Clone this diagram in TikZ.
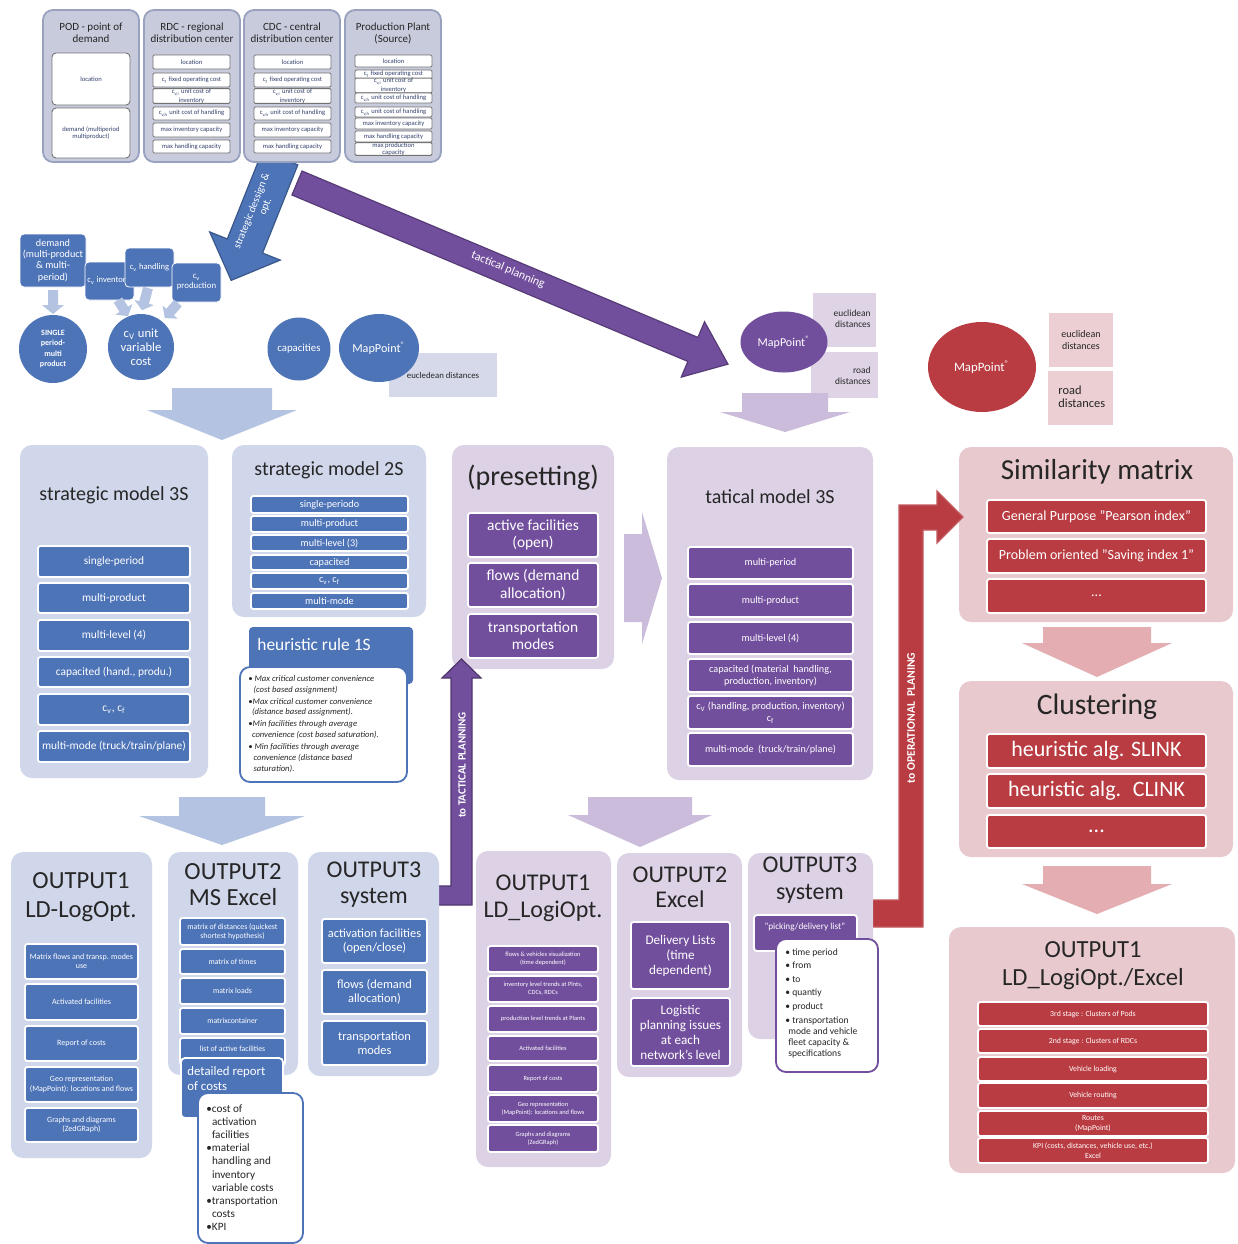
\documentclass[tikz,border=0pt]{standalone}
\usepackage{fontspec}
\setmainfont{Carlito}
\usetikzlibrary{shapes.geometric}
\definecolor{cblue}{HTML}{4E74B8}
\definecolor{lblue}{HTML}{D0D7EA}
\definecolor{ablue}{HTML}{B3C3E1}
\definecolor{cpur}{HTML}{724F9D}
\definecolor{lpur}{HTML}{DCD1E5}
\definecolor{apur}{HTML}{CBBCDB}
\definecolor{cred}{HTML}{B93C42}
\definecolor{lred}{HTML}{E8CACE}
\definecolor{ared}{HTML}{E3ADB2}
\definecolor{tgrey}{HTML}{C8CBDC}
\definecolor{tbord}{HTML}{98A1BE}
\definecolor{txt}{HTML}{262626}
\definecolor{navy}{HTML}{34426E}
\definecolor{ldist}{HTML}{D5D9EA}
\definecolor{lpbox}{HTML}{DED4E6}
\definecolor{lrbox}{HTML}{EBCFD2}
\newcommand\fz[2]{\fontsize{#1}{#2}\selectfont}
\newcommand\qq{\char34\relax}
\newcommand\bx[7]{%
 \pgfmathsetmacro\bxw{(#5-#3)*0.5}%
 \pgfmathsetmacro\bxh{(#6-#4)*0.5}%
 \pgfmathsetmacro\bxx{(#3+#5)/2}%
 \pgfmathsetmacro\bxy{(#4+#6)/2}%
 \node[#2, minimum width=\bxw pt, minimum height=\bxh pt] (#1) at (\bxx,\bxy) {#7};}
\newcommand\barrow[8]{%
 \begin{scope}[shift={(#2,#3)}, rotate=#4]
 \path[#1] (0,-#6) -- ({#5-#8},-#6) -- ({#5-#8},-#7) -- (#5,0) -- ({#5-#8},#7) -- ({#5-#8},#6) -- (0,#6) -- cycle;
 \end{scope}}
\tikzset{
 cont/.style={fill=#1, rounded corners=6pt, inner sep=0pt},
 ib/.style={fill=#1, draw=white, line width=0.9pt, rounded corners=1.2pt, text=white, align=center, inner sep=0pt},
 trow/.style={fill=white, draw=black!55, line width=0.45pt, rounded corners=0.6pt, text=navy, align=center, inner sep=0pt, font=\fz{3.3}{3.5}},
 tcont/.style={fill=tgrey, draw=tbord, line width=0.9pt, rounded corners=5pt, inner sep=0pt},
 ttl/.style={text=txt, align=center, inner sep=0pt},
 wbox/.style={fill=white, draw=#1, line width=0.9pt, rounded corners=5pt, inner sep=0pt},
 sbox/.style={fill=cblue, rounded corners=2pt, text=white, align=center, inner sep=0pt, draw=white, line width=0.4pt},
 dbox/.style={fill=#1, inner sep=0pt, text=txt, align=center},
 lbl/.style={text=white, inner sep=0pt, align=center},
}
\begin{document}
\begin{tikzpicture}[x=0.5pt,y=-0.5pt]
\useasboundingbox (0,0) rectangle (1238,1244);
\fill[white] (0,0) rectangle (1238,1244);

% strategic design arrow
\barrow{fill=cblue, draw=cblue!75!black, line width=0.6pt}{280.2}{157.8}{-111.8}{132}{19}{38}{37}
\node[lbl, rotate=68.2, font=\fz{5.3}{6.2}] (strl) at (252,211) {strategic dessign \&};
\node[lbl, rotate=68.2, font=\fz{5.3}{6.2}] (strl2) at (266,207) {opt.};

% top tables
\bx{pod}{tcont}{43}{10}{139}{162}{}
\node[ttl, font=\fz{5.5}{6}] (podt) at (91,33) {POD - point of\\demand};
\bx{podloc}{trow, rounded corners=2pt}{52}{53}{130}{105}{location}
\bx{poddem}{trow, rounded corners=2pt}{52}{108}{130}{158}{demand (multiperiod\\multiproduct)}

\bx{rdc}{tcont}{144}{10}{240}{162}{}
\node[ttl, font=\fz{5.5}{6}] (rdct) at (192,33) {RDC - regional\\distribution center};
\bx{rdca}{trow}{153}{55}{230}{69}{location}
\bx{rdcb}{trow}{153}{73}{230}{87}{c\textsubscript{f} fixed operating cost}
\bx{rdcc}{trow}{153}{89}{230}{103}{c\textsubscript{v,i} unit cost of\\inventory}
\bx{rdcd}{trow}{153}{107}{230}{120}{c\textsubscript{v,h} unit cost of handling}
\bx{rdce}{trow}{153}{123}{230}{137}{max inventory capacity}
\bx{rdcf}{trow}{153}{140}{230}{153}{max handling capacity}

\bx{cdc}{tcont}{244}{10}{340}{162}{}
\node[ttl, font=\fz{5.5}{6}] (cdct) at (292,33) {CDC - central\\distribution center};
\bx{cdca}{trow}{254}{55}{331}{69}{location}
\bx{cdcb}{trow}{254}{73}{331}{87}{c\textsubscript{f} fixed operating cost}
\bx{cdcc}{trow}{254}{89}{331}{103}{c\textsubscript{v,i} unit cost of\\inventory}
\bx{cdcd}{trow}{254}{107}{331}{120}{c\textsubscript{v,h} unit cost of handling}
\bx{cdce}{trow}{254}{123}{331}{137}{max inventory capacity}
\bx{cdcf}{trow}{254}{140}{331}{153}{max handling capacity}

\bx{pp}{tcont}{345}{10}{441}{162}{}
\node[ttl, font=\fz{5.5}{6}] (ppt) at (393,33) {Production Plant\\(Source)};
\bx{ppa}{trow}{355}{55}{432}{67}{location}
\bx{ppb}{trow}{355}{70}{432}{79}{c\textsubscript{f} fixed operating cost}
\bx{ppc}{trow}{355}{80}{432}{91}{c\textsubscript{v,i} unit cost of\\inventory}
\bx{ppd}{trow}{355}{93}{432}{103}{c\textsubscript{v,h} unit cost of handling}
\bx{ppe}{trow}{355}{107}{432}{117}{c\textsubscript{v,h} unit cost of handling}
\bx{ppf}{trow}{355}{118}{432}{129}{max inventory capacity}
\bx{ppg}{trow}{355}{131}{432}{142}{max handling capacity}
\bx{pph}{trow}{355}{143}{432}{155}{max production\\capacity}

% tactical planning arrow
\barrow{fill=cpur, draw=cpur!75!black, line width=0.6pt}{297}{183}{-22.8}{467.5}{13}{30}{38}
\node[lbl, rotate=-22.8, font=\fz{5.9}{6.6}] (tacl) at (508,270) {tactical planning};

% inputs
\bx{dem}{sbox, font=\fz{5.1}{5.6}}{20}{234}{86}{287}{demand\\(multi-product\\\& multi-\\period)}
\bx{inv}{sbox}{85}{262}{134}{300}{}
\node[lbl, anchor=west, font=\fz{4.3}{5}] (invt) at (87,281) {c\textsubscript{v} inventory};
\bx{hand}{sbox, font=\fz{4.3}{5}}{125}{248}{174}{287}{c\textsubscript{v} handling}
\bx{prod}{sbox, font=\fz{4.4}{5}}{172}{263}{221}{302}{c\textsubscript{v}\\production}

\barrow{fill=ablue}{53}{290}{-90}{24}{5}{11}{9}
\barrow{fill=ablue}{118}{300}{-58}{19}{5}{10}{8}
\barrow{fill=ablue}{148}{288}{-105}{23}{5}{10}{8}
\barrow{fill=ablue}{178}{303}{-131}{20}{5}{10}{8}

\node[circle, fill=cblue, minimum size=34pt, inner sep=0pt, text=white, align=center, font=\fz{4}{5.3}\bfseries] (single) at (53,349) {SINGLE\\period-\\multi\\product};
\node[circle, fill=cblue, minimum size=33pt, inner sep=0pt, text=white, align=center, font=\fz{6.3}{7.1}] (cvc) at (141,347) {c\textsubscript{V} unit\\variable\\cost};
\node[circle, fill=cblue, minimum size=31.5pt, inner sep=0pt, text=white, font=\fz{5.4}{6}] (capc) at (299,349) {capacities};
\bx{eucl}{dbox=ldist, font=\fz{4.4}{5}}{389}{353}{497}{397}{eucledean distances}
\node[ellipse, fill=cblue, minimum width=40pt, minimum height=34pt, inner sep=0pt, text=white, font=\fz{6.1}{7}] (mp1) at (379,348) {MapPoint\textsuperscript{\fz{4}{4}®}};

\barrow{fill=ablue}{222}{388}{-90}{52}{50}{75}{30}

% strategic 3S
\bx{s3}{cont=lblue}{20}{445}{208}{778}{}
\node[ttl, font=\fz{10}{11}] (s3t) at (114,495) {strategic model 3S};
\bx{s3a}{ib=cblue, font=\fz{5.7}{6.8}}{38}{546}{190}{577}{single-period}
\bx{s3b}{ib=cblue, font=\fz{5.7}{6.8}}{38}{583}{190}{613}{multi-product}
\bx{s3c}{ib=cblue, font=\fz{5.7}{6.8}}{38}{620}{190}{651}{multi-level (4)}
\bx{s3d}{ib=cblue, font=\fz{5.7}{6.8}}{38}{657}{190}{687}{capacited (hand., produ.)}
\bx{s3e}{ib=cblue, font=\fz{5.7}{6.8}}{38}{694}{190}{725}{c\textsubscript{v}, c\textsubscript{f}}
\bx{s3f}{ib=cblue, font=\fz{5.7}{6.8}}{38}{731}{190}{762}{multi-mode (truck/train/plane)}

% strategic 2S
\bx{s2}{cont=lblue}{232}{445}{426}{617}{}
\node[ttl, font=\fz{10}{11}] (s2t) at (329,470) {strategic model 2S};
\bx{s2a}{ib=cblue, font=\fz{5.1}{6}}{251}{496}{408}{513}{single-periodo}
\bx{s2b}{ib=cblue, font=\fz{5.1}{6}}{251}{516}{408}{532}{multi-product}
\bx{s2c}{ib=cblue, font=\fz{5.1}{6}}{251}{535}{408}{551}{multi-level (3)}
\bx{s2d}{ib=cblue, font=\fz{5.1}{6}}{251}{555}{408}{570}{capacited}
\bx{s2e}{ib=cblue, font=\fz{5.1}{6}}{251}{573}{408}{589}{c\textsubscript{v}, c\textsubscript{f}}
\bx{s2f}{ib=cblue, font=\fz{5.1}{6}}{251}{593}{408}{609}{multi-mode}

% heuristic rule
\bx{hr}{fill=cblue, rounded corners=2pt, inner sep=0pt}{249}{627}{413}{684}{}
\node[lbl, anchor=west, font=\fz{8.7}{9.5}] (hrt) at (257,645) {heuristic rule 1S};
\bx{hrw}{wbox=cblue}{240}{667}{407}{782}{}
\node[anchor=north west, align=left, inner sep=0pt, text=txt, font=\fz{4.3}{5.4}\itshape] (hrl) at (248,675) {%
• Max critical customer convenience\\
\hspace*{2.6pt}(cost based assignment)\\[0.6pt]
•Max critical customer convenience\\
\hspace*{1.8pt}(distance based assignment).\\[0.6pt]
•Min facilities through average\\
\hspace*{1.8pt}convenience (cost based saturation).\\[0.6pt]
• Min facilities through average\\
\hspace*{2.6pt}convenience (distance based\\
\hspace*{2.6pt}saturation).};

% presetting
\bx{pre}{cont=lpur}{452}{445}{614}{669}{}
\node[ttl, font=\fz{14}{15}] (pret) at (533,478) {(presetting)};
\bx{prea}{ib=cpur, font=\fz{7.7}{8.6}}{468}{513}{598}{557}{active facilities\\(open)}
\bx{preb}{ib=cpur, font=\fz{7.7}{8.6}}{468}{563}{598}{607}{flows (demand\\allocation)}
\bx{prec}{ib=cpur, font=\fz{7.7}{8.6}}{468}{614}{598}{658}{transportation\\modes}

\barrow{fill=apur}{624}{578}{0}{38}{44}{66}{20}

% tactical model
\bx{tac}{cont=lpur}{667}{447}{873}{780}{}
\node[ttl, font=\fz{10}{11}] (tact) at (770,497) {tatical model 3S};
\bx{taca}{ib=cpur, font=\fz{5.1}{6.1}}{688}{547}{853}{579}{multi-period}
\bx{tacb}{ib=cpur, font=\fz{5.1}{6.1}}{688}{584}{853}{617}{multi-product}
\bx{tacc}{ib=cpur, font=\fz{5.1}{6.1}}{688}{622}{853}{654}{multi-level (4)}
\bx{tacd}{ib=cpur, font=\fz{5.1}{6.1}}{688}{659}{853}{692}{capacited (material~ handling,\\production, inventory)}
\bx{tace}{ib=cpur, font=\fz{5.1}{6.1}}{688}{696}{853}{729}{c\textsubscript{V} (handling, production, inventory)\\c\textsubscript{f}}
\bx{tacf}{ib=cpur, font=\fz{5.1}{6.1}}{688}{733}{853}{766}{multi-mode~ (truck/train/plane)}

% purple mappoint
\bx{pe}{dbox=lpbox}{813}{293}{876}{347}{}
\node[anchor=east, align=right, inner sep=0pt, text=txt, font=\fz{4.7}{5.3}] (pet) at (871,319) {euclidean\\distances};
\bx{pr}{dbox=lpbox}{811}{352}{878}{398}{}
\node[anchor=east, align=right, inner sep=0pt, text=txt, font=\fz{4.7}{5.3}] (prt) at (871,376) {road\\distances};
\node[ellipse, fill=cpur, minimum width=43.5pt, minimum height=30.5pt, inner sep=0pt, text=white, font=\fz{6}{7}] (mp2) at (784,342) {MapPoint\textsuperscript{\fz{4}{4}®}};
\barrow{fill=apur}{785}{393}{-90}{39}{43}{65}{20}

% red mappoint
\node[ellipse, fill=cred, minimum width=54pt, minimum height=45pt, inner sep=0pt, text=white, font=\fz{6.4}{7}] (mp3) at (982,367) {MapPoint\textsuperscript{\fz{4.2}{4.2}®}};
\bx{re}{dbox=lrbox, font=\fz{5}{5.6}}{1049}{313}{1113}{367}{euclidean\\distances}
\bx{rr}{dbox=lrbox}{1048}{371}{1113}{425}{}
\node[anchor=west, align=left, inner sep=0pt, text=txt, font=\fz{6.2}{6.7}] (rrt) at (1058,397) {road\\distances};

% similarity
\bx{sim}{cont=lred}{959}{447}{1233}{622}{}
\node[ttl, font=\fz{14.5}{15}] (simt) at (1097,472) {Similarity matrix};
\bx{sima}{ib=cred, font=\fz{7}{8}}{987}{500}{1206}{533}{General Purpose \qq Pearson index\qq}
\bx{simb}{ib=cred, font=\fz{7}{8}}{987}{539}{1206}{573}{Problem oriented \qq Saving index 1\qq}
\bx{simc}{ib=cred, font=\fz{7}{8}}{987}{579}{1206}{613}{...}
\barrow{fill=ared}{1097}{627}{-90}{50}{54}{75}{34}

% clustering
\bx{clu}{cont=lred}{959}{681}{1233}{857}{}
\node[ttl, font=\fz{14.8}{15}] (clut) at (1097,707) {Clustering};
\bx{clua}{ib=cred, font=\fz{11}{12}}{987}{734}{1206}{768}{heuristic alg. SLINK}
\bx{club}{ib=cred, font=\fz{11}{12}}{987}{774}{1206}{808}{heuristic alg.~ CLINK}
\bx{cluc}{ib=cred, font=\fz{11}{12}}{987}{815}{1206}{848}{...}
\barrow{fill=ared}{1097}{866}{-90}{48}{54}{75}{30}

% output right
\bx{or}{cont=lred}{949}{927}{1235}{1173}{}
\node[ttl, font=\fz{12.3}{14}] (ort) at (1093,966) {OUTPUT1\\LD\_LogiOpt./Excel};
\bx{ora}{ib=cred, font=\fz{3.9}{5}}{978}{1002}{1208}{1026}{3rd stage : Clusters of Pods}
\bx{orb}{ib=cred, font=\fz{3.9}{5}}{978}{1029}{1208}{1053}{2nd stage : Clusters of RDCs}
\bx{orc}{ib=cred, font=\fz{3.9}{5}}{978}{1057}{1208}{1081}{Vehicle loading}
\bx{ord}{ib=cred, font=\fz{3.9}{5}}{978}{1083}{1208}{1108}{Vehicle routing}
\bx{ore}{ib=cred, font=\fz{3.9}{5}}{978}{1111}{1208}{1136}{Routes\\(MapPoint)}
\bx{orf}{ib=cred, font=\fz{3.9}{5}}{978}{1138}{1208}{1163}{KPI (costs, distances, vehicle use, etc.)\\Excel}

% down arrows to outputs
\barrow{fill=ablue}{222}{797}{-90}{48}{43}{83}{29}
\barrow{fill=apur}{640}{797}{-90}{50}{52}{72}{32}

% L arrows
\path[fill=cpur, draw=cpur!70!black, line width=0.6pt] (430,905) -- (472,905) -- (472,678) -- (481,678) -- (461.5,659) -- (442,678) -- (451,678) -- (451,886) -- (430,886) -- cycle;
\node[lbl, rotate=90, font=\fz{5.5}{6}\bfseries] (ttpl) at (462,765) {to TACTICAL PLANNING};
\path[fill=cred, draw=cred!85!white, line width=0.6pt] (863,927) -- (923,927) -- (923,530) -- (937,530) -- (937,543) -- (963,517) -- (937,491) -- (937,505) -- (899,505) -- (899,900) -- (863,900) -- cycle;
\node[lbl, rotate=90, font=\fz{5.8}{6}\bfseries] (topl) at (911,718) {to OPERATIONAL~ PLANING};

% output1 blue
\bx{o1}{cont=lblue}{11}{852}{152}{1158}{}
\node[ttl, font=\fz{12.3}{14.5}] (o1t) at (81,897) {OUTPUT1\\LD-LogOpt.};
\bx{o1a}{ib=cblue, font=\fz{4}{4.7}}{25}{944}{138}{979}{Matrix flows and transp. modes\\use}
\bx{o1b}{ib=cblue, font=\fz{4}{4.7}}{25}{984}{138}{1020}{Activated facilities}
\bx{o1c}{ib=cblue, font=\fz{4}{4.7}}{25}{1026}{138}{1061}{Report of costs}
\bx{o1d}{ib=cblue, font=\fz{4}{4.7}}{25}{1067}{138}{1102}{Geo representation\\(MapPoint): locations and flows}
\bx{o1e}{ib=cblue, font=\fz{4}{4.7}}{25}{1108}{138}{1142}{Graphs and diagrams\\(ZedGRaph)}

% output2 blue
\bx{o2}{cont=lblue}{168}{852}{298}{1075}{}
\node[ttl, font=\fz{12.3}{13}] (o2t) at (233,885) {OUTPUT2\\MS Excel};
\bx{o2a}{ib=cblue, font=\fz{3.9}{4.7}}{180}{918}{285}{945}{matrix of distances (quickest\\shortest hypothesis)}
\bx{o2b}{ib=cblue, font=\fz{3.9}{4.7}}{180}{949}{285}{974}{matrix of times}
\bx{o2c}{ib=cblue, font=\fz{3.9}{4.7}}{180}{978}{285}{1004}{matrix loads}
\bx{o2d}{ib=cblue, font=\fz{3.9}{4.7}}{180}{1008}{285}{1034}{matrixcontainer}
\bx{o2e}{ib=cblue, font=\fz{3.9}{4.7}}{180}{1038}{285}{1065}{\raisebox{3pt}{list of active facilities}}
\bx{o2r}{fill=cblue, draw=white, line width=0.9pt, rounded corners=2pt, inner sep=0pt}{181}{1058}{283}{1118}{}
\node[lbl, anchor=north west, align=left, font=\fz{6.4}{7.4}] (o2rt) at (187,1066) {detailed report\\of costs};
\bx{o2w}{wbox=cblue}{198}{1093}{303}{1243}{}
\node[anchor=north west, align=left, inner sep=0pt, text=txt, font=\fz{5.6}{6.6}] (o2bl) at (206,1104) {%
•cost of\\\hspace*{2.8pt}activation\\\hspace*{2.8pt}facilities\\
•material\\\hspace*{2.8pt}handling and\\\hspace*{2.8pt}inventory\\\hspace*{2.8pt}variable costs\\
•transportation\\\hspace*{2.8pt}costs\\
•KPI};

% output3 blue
\bx{o3}{cont=lblue}{308}{852}{439}{1076}{}
\node[ttl, font=\fz{12}{13}] (o3t) at (374,885) {OUTPUT3\\system};
\bx{o3a}{ib=cblue, font=\fz{6.2}{7}}{322}{919}{427}{963}{activation facilities\\(open/close)}
\bx{o3b}{ib=cblue, font=\fz{6.2}{7}}{322}{970}{427}{1014}{flows (demand\\allocation)}
\bx{o3c}{ib=cblue, font=\fz{6.2}{7}}{322}{1021}{427}{1065}{transportation\\modes}

% output1 purple
\bx{p1}{cont=lpur}{476}{851}{611}{1167}{}
\node[ttl, font=\fz{12}{13.5}] (p1t) at (543,898) {OUTPUT1\\LD\_LogiOpt.};
\bx{p1a}{ib=cpur, font=\fz{3.2}{3.9}}{488}{946}{598}{972}{flows \& vehicles visualization\\(time dependent)}
\bx{p1b}{ib=cpur, font=\fz{3.2}{3.9}}{488}{976}{598}{1002}{inventory level trends at Plnts,\\CDCs, RDCs}
\bx{p1c}{ib=cpur, font=\fz{3.2}{3.9}}{488}{1006}{598}{1032}{production level trends at Plants}
\bx{p1d}{ib=cpur, font=\fz{3.2}{3.9}}{488}{1036}{598}{1061}{Activated facilities}
\bx{p1e}{ib=cpur, font=\fz{3.2}{3.9}}{488}{1065}{598}{1092}{Report of costs}
\bx{p1f}{ib=cpur, font=\fz{3.2}{3.9}}{488}{1095}{598}{1122}{Geo representation\\(MapPoint): locations and flows}
\bx{p1g}{ib=cpur, font=\fz{3.2}{3.9}}{488}{1125}{598}{1152}{Graphs and diagrams\\(ZedGRaph)}

% output2 purple
\bx{p2}{cont=lpur}{617}{853}{742}{1077}{}
\node[ttl, font=\fz{12}{12.5}] (p2t) at (680,887) {OUTPUT2\\Excel};
\bx{p2a}{ib=cpur, font=\fz{6.6}{7.5}}{631}{922}{730}{989}{Delivery Lists\\(time\\dependent)}
\bx{p2b}{ib=cpur, font=\fz{6.6}{7.5}}{631}{998}{730}{1066}{Logistic\\planning issues\\at each\\network's level}

% output3 purple
\bx{p3}{cont=lpur}{748}{853}{873}{1039}{}
\node[ttl, font=\fz{12}{13.5}] (p3t) at (810,880) {OUTPUT3\\system};
\bx{p3a}{fill=cpur, draw=white, line width=0.9pt, rounded corners=1.5pt, inner sep=0pt}{754}{915}{857}{951}{}
\node[lbl, font=\fz{4.6}{5}] (p3at) at (805,927) {\qq picking/delivery list\qq};
\bx{p3w}{wbox=cpur}{776}{939}{878}{1072}{}
\node[anchor=north west, align=left, inner sep=0pt, text=txt, font=\fz{4.8}{5.5}] (p3bl) at (785,948) {%
• time period\\[1.3pt]
• from\\[1.3pt]
• to\\[1.3pt]
• quantiy\\[1.3pt]
• product\\[1.3pt]
• transportation\\
\hspace*{1.5pt}mode and vehicle\\
\hspace*{1.5pt}fleet capacity \&\\
\hspace*{1.5pt}specifications};

\end{tikzpicture}
\end{document}
